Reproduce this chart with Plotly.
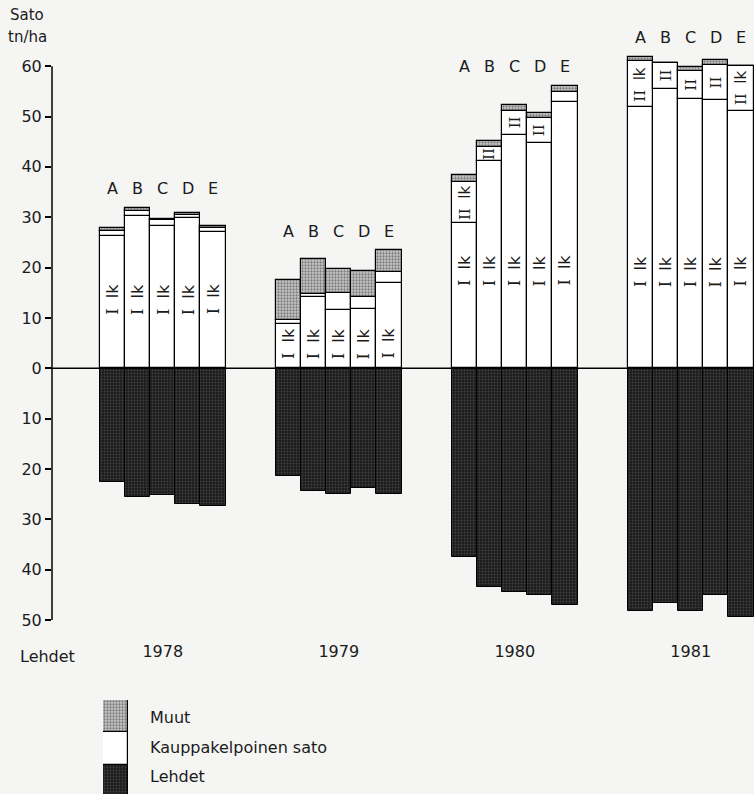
import plotly.graph_objects as go

# Satokomponentit lajikkeittain (tn/ha)
years = ["1978", "1979", "1980", "1981"]
varieties = ["A", "B", "C", "D", "E"]

# I-luokan kauppakelpoinen sato
luokka_1 = [
    [26.2, 30.2, 28.2, 29.8, 27.1],
    [8.8, 14.2, 11.5, 11.7, 17.0],
    [28.9, 41.1, 46.4, 44.7, 52.9],
    [51.8, 55.5, 53.5, 53.2, 51.2],
]
# II-luokan kauppakelpoinen sato
luokka_2 = [
    [1.1, 1.0, 1.2, 0.6, 0.8],
    [0.8, 0.6, 3.5, 2.5, 2.2],
    [8.0, 2.8, 4.8, 5.1, 1.9],
    [9.2, 5.2, 5.5, 7.1, 8.9],
]
# Muut (ei kauppakelpoinen)
muut = [
    [0.6, 0.7, 0.2, 0.4, 0.4],
    [7.9, 6.9, 4.7, 5.1, 4.2],
    [1.4, 1.2, 1.1, 1.0, 1.3],
    [0.9, 0.0, 0.8, 1.0, 0.0],
]
# Lehdet, piirretään nollatason alapuolelle
lehdet = [
    [22.5, 25.6, 25.1, 27.0, 27.4],
    [21.4, 24.3, 25.0, 23.7, 25.0],
    [37.4, 43.5, 44.4, 45.1, 47.1],
    [48.2, 46.6, 48.2, 45.1, 49.5],
]
luokka_2_labels = [
    ["", "", "", "", ""],
    ["", "", "", "", ""],
    ["II lk", "II", "II", "II", ""],
    ["II lk", "II", "II", "II", "II lk"],
]
y_ticks = [-50, -40, -30, -20, -10, 0, 10, 20, 30, 40, 50, 60]
legend_items = ["Muut", "Kauppakelpoinen sato", "Lehdet"]

# ---- layout constants ----
W, H = 754, 794
M_L = 52
Y_TOP, Y_BOTTOM = 66.0, -50.0        # value range of the plotting area
PX_60, PX_M50 = 66.5, 620.0           # pixel rows of the 60 and -50 ticks
PX_PER_UNIT = (PX_M50 - PX_60) / 110.0
M_T = PX_60 - (Y_TOP - 60) * PX_PER_UNIT
GROUP_STEP = 7                        # 5 bars + 2 empty slots
BAR_PX = 25.14
LK_LABEL_Y = [13.7, 4.9, 19.4, 19.2]  # height of the rotated "I lk" text per year
FONT = "DejaVu Sans"
SERIF = "DejaVu Serif"
INK = "#1b1b1b"
PAPER = "#f5f5f3"


def px_x(px):
    return (px - M_L) / (W - M_L)


def px_y(py):
    return (H - py) / (H - M_T)


def class_label(text):
    """Quality class label: roman numeral set in a serif face, then 'lk'."""
    parts = text.split(" ", 1)
    out = f"<span style='font-family:{SERIF}'>{parts[0]}</span>"
    if len(parts) > 1:
        out += "\u00a0\u00a0" + parts[1]
    return out


xs, y1, y2, ym, yl = [], [], [], [], []
for g in range(len(years)):
    for i in range(len(varieties)):
        xs.append(g * GROUP_STEP + i)
        y1.append(luokka_1[g][i])
        y2.append(luokka_2[g][i])
        ym.append(muut[g][i])
        yl.append(-lehdet[g][i])

outline = dict(color="black", width=1.2)
muut_pattern = dict(shape=".", fgcolor="#2e2e2e", bgcolor="#c8c8c8", size=3, solidity=0.45)
lehdet_pattern = dict(shape=".", fgcolor="#666666", bgcolor="#1c1c1c", size=3, solidity=0.3)

fig = go.Figure()
fig.add_bar(x=xs, y=y1, width=1, name="Kauppakelpoinen sato",
            marker=dict(color="white", line=outline), showlegend=False)
fig.add_bar(x=xs, y=y2, width=1, name="Kauppakelpoinen sato",
            marker=dict(color="white", line=outline), showlegend=False)
fig.add_bar(x=xs, y=ym, width=1, name="Muut",
            marker=dict(color="#c8c8c8", pattern=muut_pattern, line=outline), showlegend=False)
fig.add_bar(x=xs, y=yl, width=1, name="Lehdet",
            marker=dict(color="#1c1c1c", pattern=lehdet_pattern, line=dict(color="black", width=1)),
            showlegend=False)

# legend block: three stacked swatches drawn on a small separate axis
for name, marker in [
    ("Lehdet", dict(color="#1c1c1c", pattern=lehdet_pattern, line=outline)),
    ("Kauppakelpoinen sato", dict(color="white", line=outline)),
    ("Muut", dict(color="#c8c8c8", pattern=muut_pattern, line=outline)),
]:
    fig.add_bar(x=[0], y=[1], width=1, xaxis="x2", yaxis="y2",
                marker=marker, showlegend=False, hoverinfo="skip")

annotations = []
for g in range(len(years)):
    tops = [luokka_1[g][i] + luokka_2[g][i] + muut[g][i] for i in range(5)]
    letter_y = max(tops) + 3.8
    for i, v in enumerate(varieties):
        x = g * GROUP_STEP + i
        annotations.append(dict(x=x, y=letter_y, text=v, showarrow=False,
                                font=dict(family=FONT, size=16, color=INK)))
        annotations.append(dict(x=x, y=LK_LABEL_Y[g], text=class_label("I lk"), textangle=-90,
                                showarrow=False, font=dict(family=FONT, size=16, color=INK)))
        lab = luokka_2_labels[g][i]
        if lab:
            mid = luokka_1[g][i] + luokka_2[g][i] / 2
            annotations.append(dict(x=x, y=mid, text=class_label(lab), textangle=-90,
                                    showarrow=False, font=dict(family=FONT, size=15, color=INK)))


def paper_text(text, cx, cy, size=16, anchor="center"):
    return dict(xref="paper", yref="paper", x=px_x(cx), y=px_y(cy), text=text,
                xanchor=anchor, yanchor="middle", showarrow=False,
                font=dict(family=FONT, size=size, color=INK))


annotations += [
    paper_text("Sato", 27, 15, 15),
    paper_text("tn/ha", 27, 37, 15),
    paper_text("Lehdet", 47, 657),
]
for name, py in zip(legend_items, [718, 748, 777]):
    annotations.append(paper_text(name, 148, py, anchor="left"))

x_lo = -(112.5 - M_L) / BAR_PX
x_hi = x_lo + (W - M_L) / BAR_PX

fig.update_layout(
    width=W, height=H,
    margin=dict(l=M_L, r=0, t=M_T, b=0),
    paper_bgcolor=PAPER, plot_bgcolor=PAPER,
    barmode="relative", bargap=0,
    font=dict(family=FONT, size=16, color=INK),
    xaxis=dict(range=[x_lo, x_hi], showgrid=False, zeroline=False, showline=False,
               automargin=False,
               tickvals=[g * GROUP_STEP + 2 for g in range(len(years))], ticktext=years,
               ticks="", ticklabelstandoff=20, tickfont=dict(family=FONT, size=16, color=INK)),
    yaxis=dict(domain=[px_y(PX_M50), 1], range=[Y_BOTTOM, Y_TOP], showgrid=False,
               zeroline=False, showline=False, automargin=False,
               tickvals=y_ticks, ticktext=[str(abs(v)) for v in y_ticks],
               ticks="outside", ticklen=6, tickwidth=1.5, tickcolor="black",
               tickfont=dict(family=FONT, size=16, color=INK)),
    xaxis2=dict(domain=[px_x(103), px_x(128)], range=[-0.5, 0.5], visible=False,
                anchor="y2", automargin=False),
    yaxis2=dict(domain=[0, px_y(700)], range=[0.09, 3.0], visible=False,
                anchor="x2", automargin=False),
    shapes=[
        # vertical value axis running from 60 down to 50
        dict(type="line", xref="paper", yref="y", x0=0, x1=0, y0=-50, y1=60,
             line=dict(color="black", width=1.5)),
        # zero level across the whole chart
        dict(type="line", xref="paper", yref="y", x0=px_x(46), x1=1, y0=0, y1=0,
             line=dict(color="black", width=1.5)),
    ],
    annotations=annotations,
)

fig.write_html("out.html")
